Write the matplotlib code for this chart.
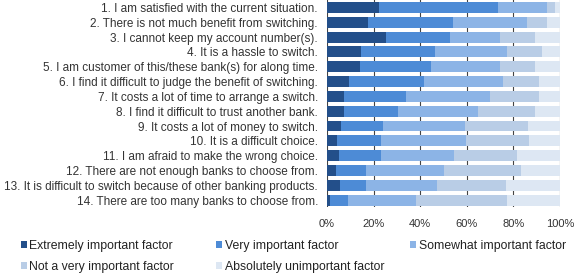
import matplotlib
matplotlib.use("Agg")
import matplotlib.pyplot as plt
import numpy as np

statements = [
    "1. I am satisfied with the current situation.",
    "2. There is not much benefit from switching.",
    "3. I cannot keep my account number(s).",
    "4. It is a hassle to switch.",
    "5. I am customer of this/these bank(s) for along time.",
    "6. I find it difficult to judge the benefit of switching.",
    "7. It costs a lot of time to arrange a switch.",
    "8. I find it difficult to trust another bank.",
    "9. It costs a lot of money to switch.",
    "10. It is a difficult choice.",
    "11. I am afraid to make the wrong choice.",
    "12. There are not enough banks to choose from.",
    "13. It is difficult to switch because of other banking products.",
    "14. There are too many banks to choose from.",
]

# percentages per answer category
extremely = [22.3, 17.7, 25.3, 14.7, 14.2, 9.6, 7.3, 7.3, 6.0, 4.3, 5.3, 3.9, 5.7, 1.4]
very = [50.9, 36.4, 27.4, 31.5, 30.3, 32.0, 26.7, 23.3, 18.0, 19.0, 17.7, 12.8, 11.0, 7.5]
somewhat = [21.2, 31.6, 21.5, 30.9, 29.7, 34.1, 36.0, 34.2, 35.4, 36.4, 31.5, 33.5, 30.6, 29.2]
not_very = [3.6, 8.7, 14.9, 15.2, 15.1, 15.3, 20.9, 24.5, 26.9, 27.1, 27.2, 33.2, 29.4, 39.3]
absolutely = [2.0, 5.6, 10.9, 7.7, 10.7, 9.0, 9.1, 10.7, 13.7, 13.2, 18.3, 16.6, 23.3, 22.6]

series_names = ["Extremely important factor", "Very important factor",
                "Somewhat important factor", "Not a very important factor",
                "Absolutely unimportant factor"]
colors = ["#234f8a", "#4d8bd6", "#8cb4e6", "#b9cde6", "#dde7f3"]

plt.rcParams["font.family"] = ["Liberation Sans", "DejaVu Sans"]

fig = plt.figure(figsize=(5.76, 2.73), dpi=100)
ax = fig.add_axes([0.5677, 0.240, 0.4045, 0.7597])

y = np.arange(len(statements))
left = np.zeros(len(statements))
handles = []
for vals, c, name in zip([extremely, very, somewhat, not_very, absolutely], colors, series_names):
    vals = np.array(vals)
    h = ax.barh(y, vals, left=left, height=0.74, color=c, label=name, zorder=2)
    handles.append(h)
    left += vals

ax.set_xlim(0, 100)
ax.set_ylim(len(statements) - 0.5, -0.5)
ax.set_yticks(y)
ax.set_yticklabels(statements, fontsize=8.5, color="#333333")
ax.set_xticks([0, 20, 40, 60, 80, 100])
ax.set_xticklabels(["0%", "20%", "40%", "60%", "80%", "100%"], fontsize=8.0, color="#333333")
ax.tick_params(axis="both", length=0)
ax.tick_params(axis="x", pad=8)
ax.tick_params(axis="y", pad=6.5)
ax.xaxis.grid(True, color="#444444", linewidth=0.8, zorder=0)
ax.set_axisbelow(True)
for s in ax.spines.values():
    s.set_visible(False)

# legend: three fixed-width columns, filled row by row
columns = [[0, 3], [1, 4], [2]]
col_x = [0.036, 0.375, 0.712]
for cols, x0 in zip(columns, col_x):
    fig.legend([handles[i] for i in cols], [series_names[i] for i in cols],
               loc="upper left", bbox_to_anchor=(x0, 0.120),
               frameon=False, fontsize=8.8, handlelength=0.5, handleheight=0.5,
               handletextpad=0.2, labelspacing=0.7,
               borderaxespad=0, borderpad=0, labelcolor="#222222")

fig.savefig("out.png", dpi=100)
